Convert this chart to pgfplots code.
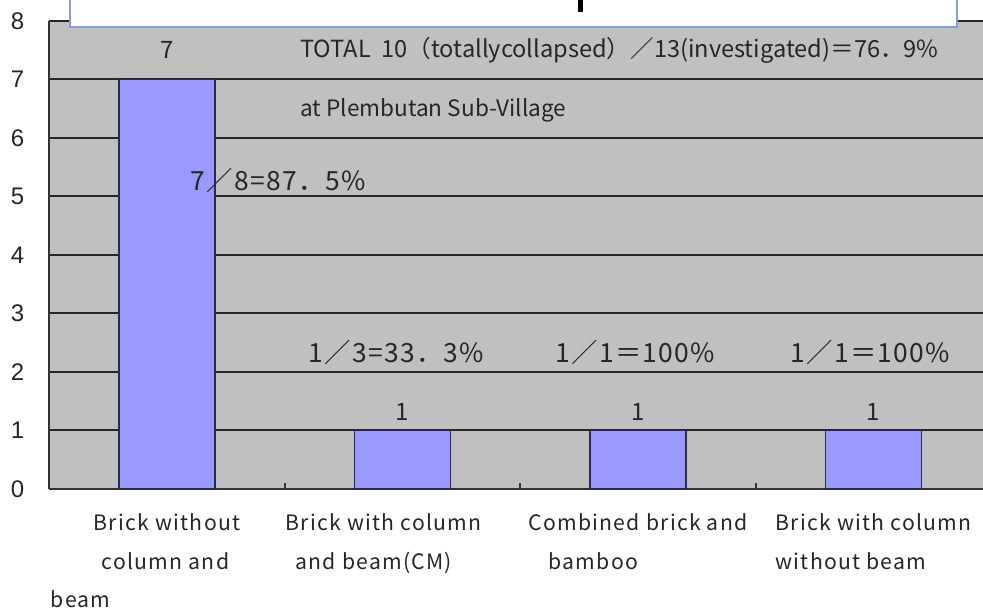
\documentclass[border=0pt]{standalone}
\usepackage{pgfplots}
\pgfplotsset{compat=1.18}
\usepackage{fontspec}
\setmainfont{Liberation Sans}
\newfontfamily\jp{Noto Sans CJK JP}
\newfontfamily\jpw[LetterSpace=5]{Noto Sans CJK JP}
\newfontfamily\lbl[LetterSpace=6]{Noto Sans CJK JP}
\definecolor{plotbg}{HTML}{C0C0C0}
\definecolor{barfill}{HTML}{9999FF}
\definecolor{baredge}{HTML}{2A2A4A}
\definecolor{boxblue}{HTML}{7FA0D4}
\definecolor{txt}{HTML}{262626}
\begin{document}
\begin{tikzpicture}
\begin{axis}[
  at={(24.625pt,59.5pt)}, anchor=south west,
  scale only axis, width=471pt, height=234pt,
  xmin=-0.5, xmax=3.5, ymin=0, ymax=8,
  axis background/.style={fill=plotbg},
  ybar, bar width=48pt,
  ytick={0,1,...,8},
  /pgf/number format/assume math mode=true,
  ymajorgrids, grid style={black!85, line width=1pt},
  xtick={0,1,2,3},
  xticklabels={
    {Brick without\\\hspace*{4pt}column and\\\hspace*{-21.5pt}beam},
    {Brick with column\hspace*{19pt}\\\hspace*{5pt}and beam(CM)},
    {Combined brick and\\\hspace*{10pt}bamboo},
    {Brick with column\\without beam}},
  minor xtick={0.5,1.5,2.5},
  major tick length=0pt, minor tick length=3pt, tick align=inside,
  minor tick style={black!80, line width=0.8pt},
  axis x line*=bottom, axis y line*=left,
  axis line style={black!80, line width=0.8pt, -},
  xticklabel style={font=\lbl\fontsize{10.6}{19.2}\selectfont, align=left, anchor=north, yshift=-9pt, text=txt},
  yticklabel style={font=\fontsize{12}{14}\selectfont, xshift=-9pt, text=txt},
  clip=false,
]
\addplot[fill=barfill, draw=baredge, line width=0.8pt] coordinates {(0,7) (1,1) (2,1) (3,1)};
\node[font=\jp\fontsize{12}{14}\selectfont, text=txt] at (axis cs:0,7.5) {7};
\node[font=\jp\fontsize{12}{14}\selectfont, text=txt] at (axis cs:1,1.32) {1};
\node[font=\jp\fontsize{12}{14}\selectfont, text=txt] at (axis cs:2,1.32) {1};
\node[font=\jp\fontsize{12}{14}\selectfont, text=txt] at (axis cs:3,1.32) {1};
\node[font=\jp\fontsize{11.8}{14}\selectfont, text=txt, anchor=west, inner sep=0pt] at (axis cs:0.565,7.5) {TOTAL\ \ 10（totallycollapsed）／13(investigated)＝76．9\%};
\node[font=\jp\fontsize{11.3}{13}\selectfont, text=txt, anchor=west, inner sep=0pt] at (axis cs:0.565,6.48) {at Plembutan Sub-Village};
\node[font=\jpw\fontsize{13.2}{15}\selectfont, text=txt, anchor=west, inner sep=0pt] at (axis cs:0.098,5.28) {7／8=87．5\%};
\node[font=\jpw\fontsize{13.2}{15}\selectfont, text=txt, anchor=west, inner sep=0pt] at (axis cs:0.599,2.34) {1／3=33．3\%};
\node[font=\jpw\fontsize{13.2}{15}\selectfont, text=txt, anchor=west, inner sep=0pt] at (axis cs:1.648,2.34) {1／1＝100\%};
\node[font=\jpw\fontsize{13.2}{15}\selectfont, text=txt, anchor=west, inner sep=0pt] at (axis cs:2.646,2.34) {1／1＝100\%};
\end{axis}
\draw[boxblue, fill=white, line width=1pt] (35pt,290.5pt) rectangle (478.5pt,320pt);
\fill[black] (289pt,304pt) rectangle (291.5pt,298pt);
\pgfresetboundingbox
\useasboundingbox (0,0) rectangle (491.5pt,304pt);
\end{tikzpicture}
\end{document}
